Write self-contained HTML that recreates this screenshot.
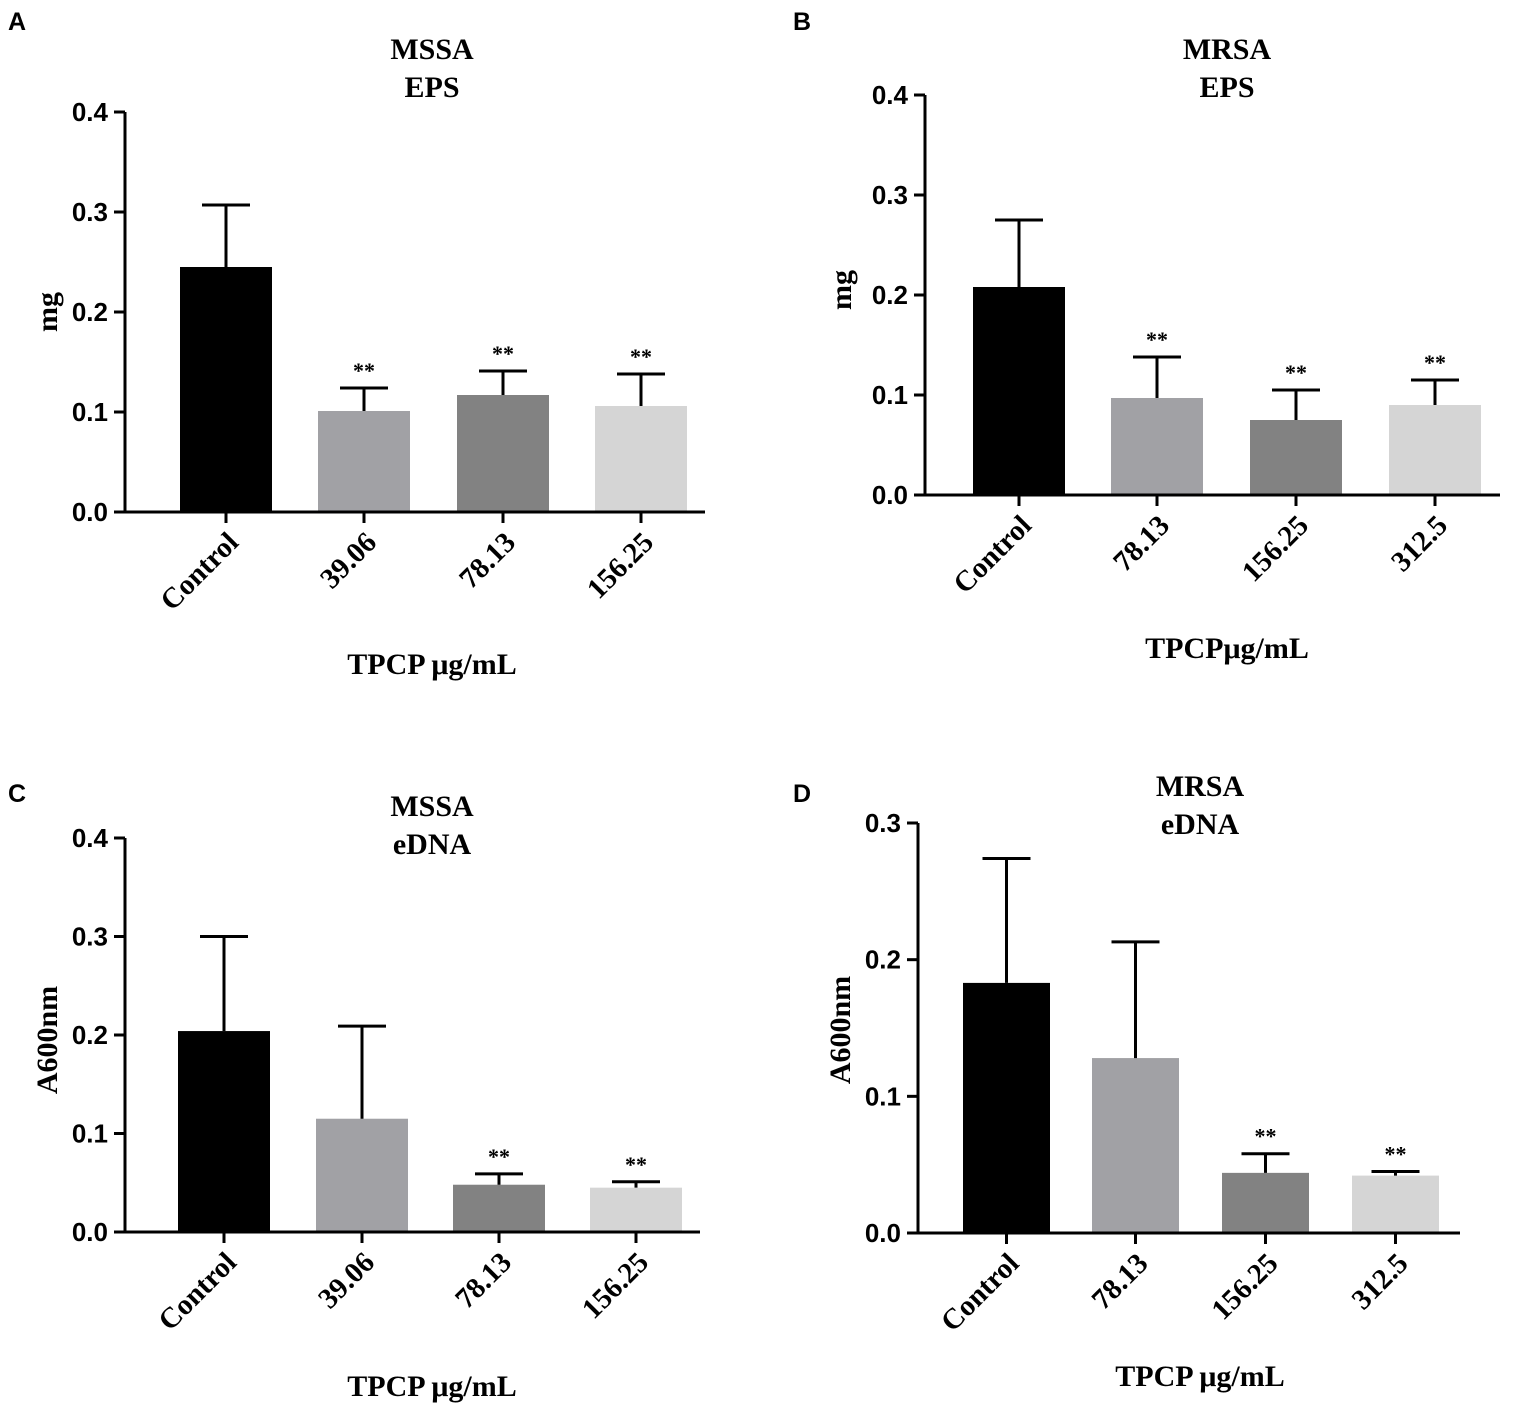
<!DOCTYPE html>
<html><head><meta charset="utf-8"><style>
body{margin:0;background:#fff}
svg text{font-family:"Liberation Serif",serif;font-weight:bold}
.tk{font-family:"Liberation Sans",sans-serif;font-weight:bold;font-size:26px}
.pl{font-family:"Liberation Sans",sans-serif;font-weight:bold;font-size:25px}
</style></head><body>
<svg id="c" width="1535" height="1407" xmlns="http://www.w3.org/2000/svg"></svg>
<script>
const catsA=["Control","39.06","78.13","156.25"];
const meanA=[0.245,0.101,0.117,0.106];
const errA=[0.307,0.124,0.141,0.138];
const sigA=[false,true,true,true];
const catsB=["Control","78.13","156.25","312.5"];
const meanB=[0.208,0.097,0.075,0.090];
const errB=[0.275,0.138,0.105,0.115];
const sigB=[false,true,true,true];
const catsC=["Control","39.06","78.13","156.25"];
const meanC=[0.204,0.115,0.048,0.045];
const errC=[0.300,0.209,0.059,0.051];
const sigC=[false,false,true,true];
const catsD=["Control","78.13","156.25","312.5"];
const meanD=[0.183,0.128,0.044,0.042];
const errD=[0.274,0.213,0.058,0.045];
const sigD=[false,false,true,true];
const ticksA=[0,0.1,0.2,0.3,0.4];
const ticksD=[0,0.1,0.2,0.3];
const colors=["#000","#a1a1a5","#828282","#d5d5d5"];
const panels=[
 {id:"a",letter:"A",lx:8,ly:30,ax:125,y0:512,yt:112,ymax:0.4,ticks:ticksA,bx:[180,318,457,595],bw:92,xend:705,cats:catsA,mean:meanA,err:errA,sig:sigA,t1:"MSSA",t2:"EPS",tx:432,ty:58,xt:"TPCP  μg/mL",xty:673,yl:"mg",ylx:57,yly:312},
 {id:"b",letter:"B",lx:793,ly:30,ax:925,y0:495,yt:95,ymax:0.4,ticks:ticksA,bx:[973,1111,1250,1389],bw:92,xend:1500,cats:catsB,mean:meanB,err:errB,sig:sigB,t1:"MRSA",t2:"EPS",tx:1227,ty:58,xt:"TPCPμg/mL",xty:657,yl:"mg",ylx:851,yly:290},
 {id:"c",letter:"C",lx:8,ly:802,ax:125,y0:1232,yt:838,ymax:0.4,ticks:ticksA,bx:[178,316,453,590],bw:92,xend:700,cats:catsC,mean:meanC,err:errC,sig:sigC,t1:"MSSA",t2:"eDNA",tx:432,ty:815,xt:"TPCP  μg/mL",xty:1395,yl:"A600nm",ylx:57,yly:1040},
 {id:"d",letter:"D",lx:793,ly:802,ax:918,y0:1233,yt:823,ymax:0.3,ticks:ticksD,bx:[963,1092,1222,1352],bw:87,xend:1460,cats:catsD,mean:meanD,err:errD,sig:sigD,t1:"MRSA",t2:"eDNA",tx:1200,ty:795,xt:"TPCP   μg/mL",xty:1385,yl:"A600nm",ylx:850,yly:1030}
];
const svg=document.getElementById('c');
const NS="http://www.w3.org/2000/svg";
function mk(tag,attrs,parent,text){const e=document.createElementNS(NS,tag);for(const k in attrs)e.setAttribute(k,attrs[k]);if(text!==undefined)e.textContent=text;parent.appendChild(e);return e;}
panels.forEach(p=>{
 const g=mk('g',{},svg);
 
 
 const y=v=>p.y0-(v/p.ymax)*(p.y0-p.yt);
 const L=mk('text',{x:p.lx,y:p.ly,class:'pl'},g,p.letter);
 
 
 const T1=mk('text',{x:p.tx,y:p.ty+1,'text-anchor':'middle','font-size':30},g,p.t1);
 
 
 const T2=mk('text',{x:p.tx,y:p.ty+39,'text-anchor':'middle','font-size':30},g,p.t2);
 
 
 const Y=mk('text',{x:0,y:0,'text-anchor':'middle','font-size':30,transform:`translate(${p.ylx},${p.yly}) rotate(-90)`},g,p.yl);
 
 
 const X=mk('text',{x:p.tx,y:p.xty+1,'text-anchor':'middle','font-size':30},g,p.xt);
 
 
 p.mean.forEach((m,i)=>{
  const cx=p.bx[i]+p.bw/2;
  const b=mk('rect',{x:p.bx[i],y:y(m),width:p.bw,height:p.y0-y(m),fill:colors[i]},g);
  
  
  const e=mk('path',{d:`M${cx},${y(m)}V${y(p.err[i])}M${cx-24},${y(p.err[i])}H${cx+24}`,stroke:'#000','stroke-width':3,fill:'none'},g);
  
  
  if(p.sig[i]){const s=mk('text',{x:cx,y:y(p.err[i])-10,'text-anchor':'middle','font-size':22,'font-weight':'normal'},g,'**');
   
   }
  mk('line',{x1:cx,x2:cx,y1:p.y0,y2:p.y0+11,stroke:'#000','stroke-width':3},g);
  const tl=mk('text',{x:0,y:0,'text-anchor':'end','font-size':29,transform:`translate(${cx+14},${p.y0+32}) rotate(-45)`},g,p.cats[i]);
  
  
 });
 const ax=mk('path',{d:`M${p.ax},${p.yt}V${p.y0}H${p.xend}`,stroke:'#000','stroke-width':3,fill:'none'},g);
 
 
 p.ticks.forEach(t=>{
  mk('line',{x1:p.ax-11,x2:p.ax,y1:y(t),y2:y(t),stroke:'#000','stroke-width':3},g);
  const tt=mk('text',{x:p.ax-17,y:y(t)+9,'text-anchor':'end',class:'tk'},g,t.toFixed(1));
  
  
 });
});
</script>
</body></html>
